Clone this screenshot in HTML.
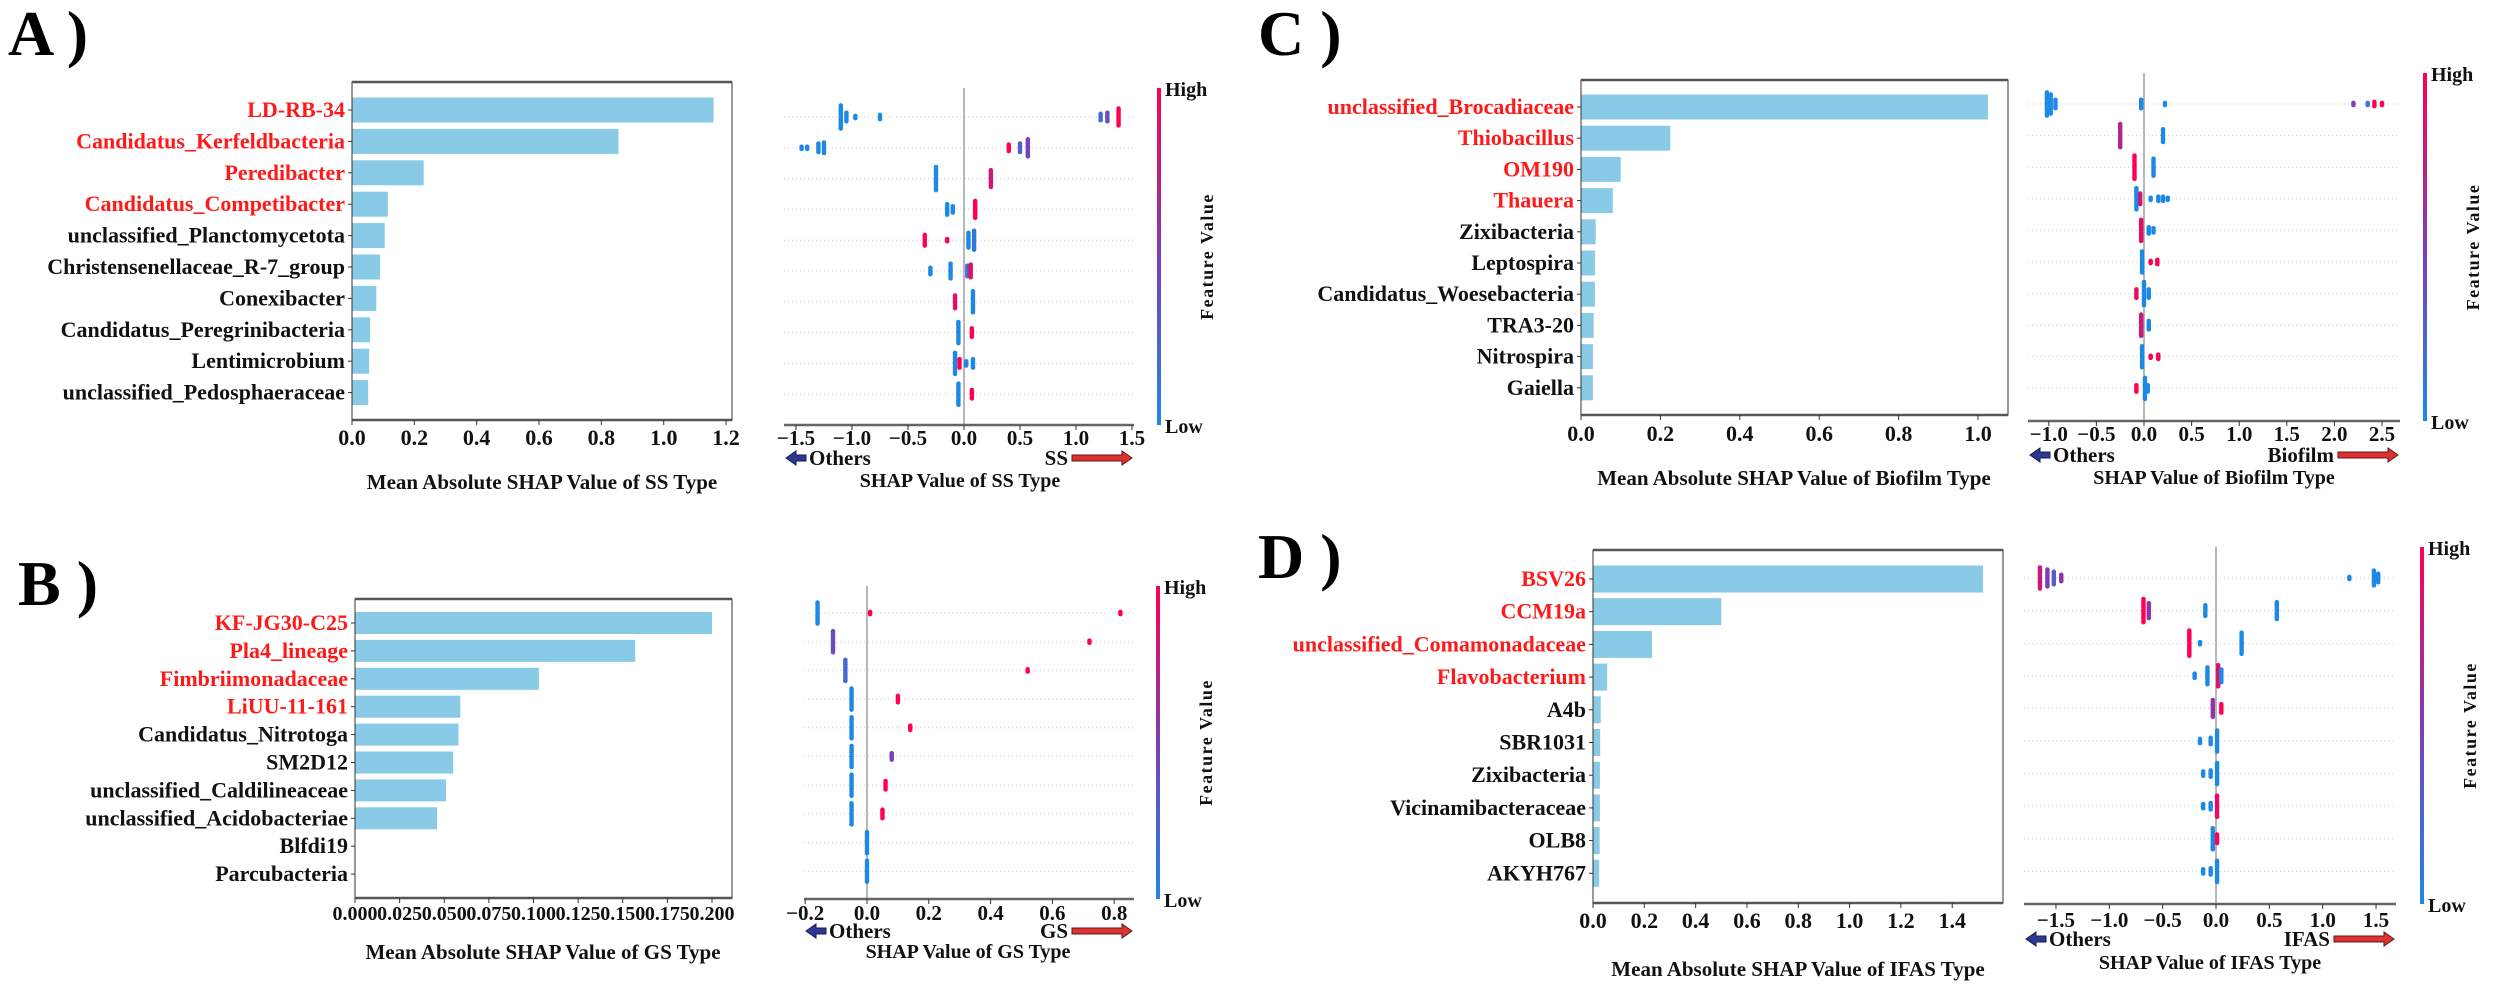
<!DOCTYPE html>
<html><head><meta charset="utf-8"><style>
html,body{margin:0;padding:0;background:#fff;}
svg{display:block;font-family:"Liberation Serif",serif;font-weight:bold;}
</style></head><body>
<svg id="fig" width="2500" height="992" viewBox="0 0 2500 992" xmlns="http://www.w3.org/2000/svg">
<defs>
<linearGradient id="cb" x1="0" y1="1" x2="0" y2="0">
<stop offset="0" stop-color="#1E88E5"/><stop offset="0.5" stop-color="#7C3FB5"/><stop offset="1" stop-color="#FF0052"/>
</linearGradient>
</defs>
</svg>
<script>
// ---------- Panel A data ----------
const aFeatures=["LD-RB-34","Candidatus_Kerfeldbacteria","Peredibacter","Candidatus_Competibacter","unclassified_Planctomycetota","Christensenellaceae_R-7_group","Conexibacter","Candidatus_Peregrinibacteria","Lentimicrobium","unclassified_Pedosphaeraceae"];
const aImportance=[1.16,0.855,0.23,0.115,0.105,0.09,0.078,0.058,0.055,0.052];
const aBarTicks=[0,0.2,0.4,0.6,0.8,1.0,1.2];
const aBarTickLabels=["0.0","0.2","0.4","0.6","0.8","1.0","1.2"];
const aSwarmTicks=[-1.5,-1.0,-0.5,0,0.5,1.0,1.5];
const aSwarmTickLabels=["-1.5","-1.0","-0.5","0.0","0.5","1.0","1.5"];
// [row, shap, featureValue(0..1), count]
const aSwarm=[[0,-1.1,0,12],[0,-1.05,0,5],[0,-0.97,0,2],[0,-0.75,0,3],[0,1.22,0.2,4],[0,1.28,0.4,5],[0,1.38,1,9],
[1,-1.45,0,2],[1,-1.4,0,2],[1,-1.3,0,5],[1,-1.25,0,6],[1,0.4,1,4],[1,0.5,0.3,5],[1,0.57,0.5,9],
[2,-0.25,0,12],[2,0.24,0.8,9],[3,-0.15,0,6],[3,-0.1,0,4],[3,0.1,1,9],
[4,-0.35,1,6],[4,-0.15,1,2],[4,0.04,0,8],[4,0.09,0.1,10],
[5,-0.3,0,4],[5,-0.12,0,8],[5,0.03,0.2,6],[5,0.06,0.9,7],
[6,-0.08,0.9,7],[6,0.08,0,11],[7,-0.05,0,11],[7,0.07,1,5],
[8,-0.08,0,11],[8,-0.04,1,5],[8,0.02,0,3],[8,0.08,0,5],[9,-0.05,0,11],[9,0.07,1,5]];

// ---------- Panel B data ----------
const bFeatures=["KF-JG30-C25","Pla4_lineage","Fimbriimonadaceae","LiUU-11-161","Candidatus_Nitrotoga","SM2D12","unclassified_Caldilineaceae","unclassified_Acidobacteriae","Blfdi19","Parcubacteria"];
const bImportance=[0.2,0.157,0.103,0.059,0.058,0.055,0.051,0.046,0,0];
const bBarTicks=[0,0.025,0.05,0.075,0.1,0.125,0.15,0.175,0.2];
const bBarTickLabels=["0.000","0.025","0.050","0.075","0.100","0.125","0.150","0.175","0.200"];
const bSwarmTicks=[-0.2,0,0.2,0.4,0.6,0.8];
const bSwarmTickLabels=["-0.2","0.0","0.2","0.4","0.6","0.8"];
const bSwarm=[[0,-0.16,0,11],[0,0.01,1,2],[0,0.82,1,2],[1,-0.11,0.4,11],[1,0.72,1,2],[2,-0.07,0.2,11],[2,0.52,1,2],
[3,-0.05,0,11],[3,0.1,1,4],[4,-0.05,0,11],[4,0.14,1,3],[5,-0.05,0,11],[5,0.08,0.5,4],
[6,-0.05,0,11],[6,0.06,1,5],[7,-0.05,0,11],[7,0.05,1,5],[8,0,0,11],[9,0,0,11]];

// ---------- Panel C data ----------
const cFeatures=["unclassified_Brocadiaceae","Thiobacillus","OM190","Thauera","Zixibacteria","Leptospira","Candidatus_Woesebacteria","TRA3-20","Nitrospira","Gaiella"];
const cImportance=[1.025,0.225,0.1,0.08,0.037,0.035,0.035,0.032,0.03,0.03];
const cBarTicks=[0,0.2,0.4,0.6,0.8,1.0];
const cBarTickLabels=["0.0","0.2","0.4","0.6","0.8","1.0"];
const cSwarmTicks=[-1.0,-0.5,0,0.5,1.0,1.5,2.0,2.5];
const cSwarmTickLabels=["-1.0","-0.5","0.0","0.5","1.0","1.5","2.0","2.5"];
const cSwarm=[[0,-1.02,0,12],[0,-0.98,0,10],[0,-0.93,0,5],[0,-0.03,0,5],[0,0.22,0,2],[0,2.2,0.5,2],[0,2.35,0.1,2],[0,2.42,1,3],[0,2.5,1,2],
[1,-0.25,0.7,12],[1,0.2,0,7],[2,-0.1,1,12],[2,0.1,0,9],
[3,-0.08,0,11],[3,-0.04,0.8,6],[3,0.07,0,2],[3,0.15,0,3],[3,0.2,0,3],[3,0.25,0,2],
[4,-0.03,0.9,11],[4,0.05,0,4],[4,0.1,0,3],[5,-0.02,0,11],[5,0.07,1,2],[5,0.14,1,3],
[6,-0.08,0.9,5],[6,0,0,12],[6,0.05,0,5],[7,-0.03,0.8,11],[7,0.05,0,5],
[8,-0.02,0,11],[8,0.07,1,2],[8,0.15,1,3],[9,-0.08,1,4],[9,0.01,0,11],[9,0.04,0,4]];

// ---------- Panel D data ----------
const dFeatures=["BSV26","CCM19a","unclassified_Comamonadaceae","Flavobacterium","A4b","SBR1031","Zixibacteria","Vicinamibacteraceae","OLB8","AKYH767"];
const dImportance=[1.52,0.5,0.23,0.055,0.03,0.028,0.027,0.027,0.026,0.024];
const dBarTicks=[0,0.2,0.4,0.6,0.8,1.0,1.2,1.4];
const dBarTickLabels=["0.0","0.2","0.4","0.6","0.8","1.0","1.2","1.4"];
const dSwarmTicks=[-1.5,-1.0,-0.5,0,0.5,1.0,1.5];
const dSwarmTickLabels=["-1.5","-1.0","-0.5","0.0","0.5","1.0","1.5"];
const dSwarm=[[0,-1.65,0.8,11],[0,-1.58,0.5,9],[0,-1.52,0.3,7],[0,-1.45,0.6,4],[0,1.25,0,2],[0,1.48,0,8],[0,1.52,0,5],
[1,-0.68,1,12],[1,-0.63,0.6,8],[1,-0.1,0,6],[1,0.57,0,9],
[2,-0.25,1,13],[2,-0.15,0,2],[2,0.24,0,11],
[3,-0.2,0,3],[3,-0.08,0,9],[3,0.02,0.9,11],[3,0.05,0,7],
[4,-0.03,0.6,9],[4,0.05,1,5],[5,-0.15,0,3],[5,-0.05,0,4],[5,0.01,0,11],
[6,-0.12,0,3],[6,-0.05,0,4],[6,0.01,0,11],[7,-0.12,0,3],[7,-0.05,0,4],[7,0.01,0.9,11],
[8,-0.03,0,11],[8,0.01,1,5],[9,-0.12,0,3],[9,-0.05,0,4],[9,0.01,0,11]];

const NS="http://www.w3.org/2000/svg";
const svg=document.getElementById('fig');
function mk(tag,attrs,parent){const e=document.createElementNS(NS,tag);for(const k in attrs)e.setAttribute(k,attrs[k]);(parent||svg).appendChild(e);return e;}
function txt(s,attrs,parent){const e=mk('text',attrs,parent);e.textContent=s;return e;}
function fvColor(v){
  const a=[30,136,229],m=[124,63,181],b=[255,0,82];let c;
  if(v<0.5){const t=v/0.5;c=a.map((x,i)=>Math.round(x+(m[i]-x)*t));}
  else{const t=(v-0.5)/0.5;c=m.map((x,i)=>Math.round(x+(b[i]-x)*t));}
  return 'rgb('+c.join(',')+')';
}

function panel(p){
  const g=mk('g',{});
  
  
  const L=txt(p.letter+' )',{x:p.letterX,y:p.letterY,'font-size':64,fill:'#000'},g);
  
  
  // ---- bar chart ----
  const B=p.bar;
  const bx=v=>B.x0+v*B.ppu;
  const by=i=>B.y0+i*B.step;
  const bg=mk('g',{},g);
  
  
  p.features.forEach((f,i)=>{
    const r=mk('rect',{x:bx(0),y:by(i)-B.h/2,width:Math.max(0,bx(p.importance[i])-bx(0)),height:B.h,fill:'#89CAE6'},bg);
    
    
    mk('line',{x1:bx(0)-4,x2:bx(0),y1:by(i),y2:by(i),stroke:'#333','stroke-width':1},bg);
    const t=txt(f,{x:bx(0)-7,y:by(i)+7,'font-size':22,'text-anchor':'end',fill:i<4?'#FF1A1A':'#111'},bg);
    
    
  });
  mk('rect',{x:B.left,y:B.top,width:B.right-B.left,height:B.bottom-B.top,fill:'none',stroke:'#333','stroke-width':1},bg);
  mk('line',{x1:B.left,x2:B.right,y1:B.top,y2:B.top,stroke:'#555','stroke-width':2.5},bg);
  mk('line',{x1:B.left,x2:B.right,y1:B.bottom,y2:B.bottom,stroke:'#555','stroke-width':2.5},bg);
  p.barTicks.forEach((v,i)=>{
    mk('line',{x1:bx(v),x2:bx(v),y1:B.bottom,y2:B.bottom+5,stroke:'#333'},bg);
    const t=txt(p.barTickLabels[i],{x:bx(v),y:B.tickY,'font-size':B.tickFs||22,'text-anchor':'middle',fill:'#111'},bg);
    
    
  });
  const xl=txt(p.barTitle,{x:B.titleX,y:B.titleY,'font-size':21,'text-anchor':'middle',fill:'#111'},bg);
  
  
  // ---- beeswarm ----
  const S=p.sw;
  const sx=v=>S.zero+v*S.ppu;
  const sy=i=>S.y0+i*S.step;
  const sg=mk('g',{},g);
  
  
  p.features.forEach((f,i)=>{
    mk('line',{x1:S.left,x2:S.right,y1:sy(i),y2:sy(i),stroke:'#ccc','stroke-width':1,'stroke-dasharray':'1 3'},sg);
  });
  mk('line',{x1:sx(0),x2:sx(0),y1:S.vtop,y2:S.axisY,stroke:'#888','stroke-width':1.2},sg);
  p.swarm.forEach(d=>{
    const [row,v,fv,n]=d;
    for(let k=0;k<n;k++){
      const c=mk('circle',{cx:sx(v),cy:sy(row)+(k-(n-1)/2)*2.1,r:2.3,fill:fvColor(fv)},sg);
      
      
    }
  });
  mk('line',{x1:S.left,x2:S.right,y1:S.axisY,y2:S.axisY,stroke:'#666','stroke-width':2.5},sg);
  p.swTicks.forEach((v,i)=>{
    mk('line',{x1:sx(v),x2:sx(v),y1:S.axisY,y2:S.axisY+5,stroke:'#333'},sg);
    const t=txt(p.swTickLabels[i].replace('-','\u2212'),{x:sx(v),y:S.tickY,'font-size':21,'text-anchor':'middle',fill:'#111'},sg);
    
    
  });
  // arrows
  const ay=S.arrowY;
  const la=mk('polygon',{points:`${S.left+2},${ay} ${S.left+12},${ay-7} ${S.left+12},${ay-3} ${S.left+22},${ay-3} ${S.left+22},${ay+3} ${S.left+12},${ay+3} ${S.left+12},${ay+7}`,fill:'#2B3990',stroke:'#1a1a55','stroke-width':1},sg);
  
  
  const ot=txt('Others',{x:S.left+25,y:ay+7,'font-size':21,fill:'#111'},sg);
  
  
  const R=S.right;
  const ra=mk('polygon',{points:`${R-2},${ay} ${R-12},${ay-7} ${R-12},${ay-3} ${R-62},${ay-3} ${R-62},${ay+3} ${R-12},${ay+3} ${R-12},${ay+7}`,fill:'#E03030',stroke:'#5a1a1a','stroke-width':1},sg);
  
  
  const ct=txt(p.cls,{x:R-66,y:ay+7,'font-size':21,'text-anchor':'end',fill:'#111'},sg);
  
  
  const st=txt(p.swTitle,{x:S.titleX,y:S.titleY,'font-size':20,'text-anchor':'middle',fill:'#111'},sg);
  
  
  // colorbar
  const cb=mk('rect',{x:S.cbX,y:S.vtop,width:4,height:S.axisY-S.vtop,fill:'url(#cb)'},sg);
  
  
  const hi=txt('High',{x:S.cbX+8,y:S.vtop+8,'font-size':20,fill:'#111'},sg);
  
  
  const lo=txt('Low',{x:S.cbX+8,y:S.axisY+8,'font-size':20,fill:'#111'},sg);
  
  
  const cy=(S.vtop+S.axisY)/2;
  const fvt=txt('Feature Value',{x:S.cbX+56,y:cy,'font-size':18,'text-anchor':'middle','letter-spacing':'1.5',fill:'#111',transform:`rotate(-90 ${S.cbX+56} ${cy})`},sg);
  
  
}

panel({id:'a',letter:'A',letterX:8,letterY:55,features:aFeatures,importance:aImportance,barTicks:aBarTicks,barTickLabels:aBarTickLabels,swarm:aSwarm,swTicks:aSwarmTicks,swTickLabels:aSwarmTickLabels,
 barTitle:'Mean Absolute SHAP Value of SS Type',swTitle:'SHAP Value of SS Type',cls:'SS',
 bar:{x0:352,ppu:311.7,y0:110,step:31.4,h:25,left:352,right:732,top:82,bottom:420,tickY:445,titleX:542,titleY:489},
 sw:{zero:964,ppu:112,y0:117,step:30.8,left:784,right:1134,axisY:425,vtop:88,tickY:445,arrowY:458,titleX:960,titleY:487,cbX:1157}});
panel({id:'b',letter:'B',letterX:18,letterY:605,features:bFeatures,importance:bImportance,barTicks:bBarTicks,barTickLabels:bBarTickLabels,swarm:bSwarm,swTicks:bSwarmTicks,swTickLabels:bSwarmTickLabels,
 barTitle:'Mean Absolute SHAP Value of GS Type',swTitle:'SHAP Value of GS Type',cls:'GS',
 bar:{x0:355,ppu:1785,y0:623,step:27.9,h:22,left:355,right:732,top:599,bottom:898,tickY:920,titleX:543,titleY:959,tickFs:20},
 sw:{zero:867,ppu:309,y0:613,step:28.7,left:804,right:1134,axisY:899,vtop:586,tickY:920,arrowY:931,titleX:968,titleY:958,cbX:1156}});
panel({id:'c',letter:'C',letterX:1258,letterY:55,features:cFeatures,importance:cImportance,barTicks:cBarTicks,barTickLabels:cBarTickLabels,swarm:cSwarm,swTicks:cSwarmTicks,swTickLabels:cSwarmTickLabels,
 barTitle:'Mean Absolute SHAP Value of Biofilm Type',swTitle:'SHAP Value of Biofilm Type',cls:'Biofilm',
 bar:{x0:1581,ppu:397,y0:107,step:31.2,h:25,left:1581,right:2008,top:80,bottom:415,tickY:441,titleX:1794,titleY:485},
 sw:{zero:2144,ppu:95.2,y0:104,step:31.6,left:2028,right:2400,axisY:421,vtop:73,tickY:441,arrowY:455,titleX:2214,titleY:484,cbX:2423}});
panel({id:'d',letter:'D',letterX:1258,letterY:578,features:dFeatures,importance:dImportance,barTicks:dBarTicks,barTickLabels:dBarTickLabels,swarm:dSwarm,swTicks:dSwarmTicks,swTickLabels:dSwarmTickLabels,
 barTitle:'Mean Absolute SHAP Value of IFAS Type',swTitle:'SHAP Value of IFAS Type',cls:'IFAS',
 bar:{x0:1593,ppu:256.6,y0:579,step:32.7,h:27,left:1593,right:2003,top:550,bottom:903,tickY:928,titleX:1798,titleY:976},
 sw:{zero:2216,ppu:106.7,y0:578,step:32.6,left:2024,right:2396,axisY:904,vtop:547,tickY:927,arrowY:939,titleX:2210,titleY:969,cbX:2420}});
</script>
</body></html>
